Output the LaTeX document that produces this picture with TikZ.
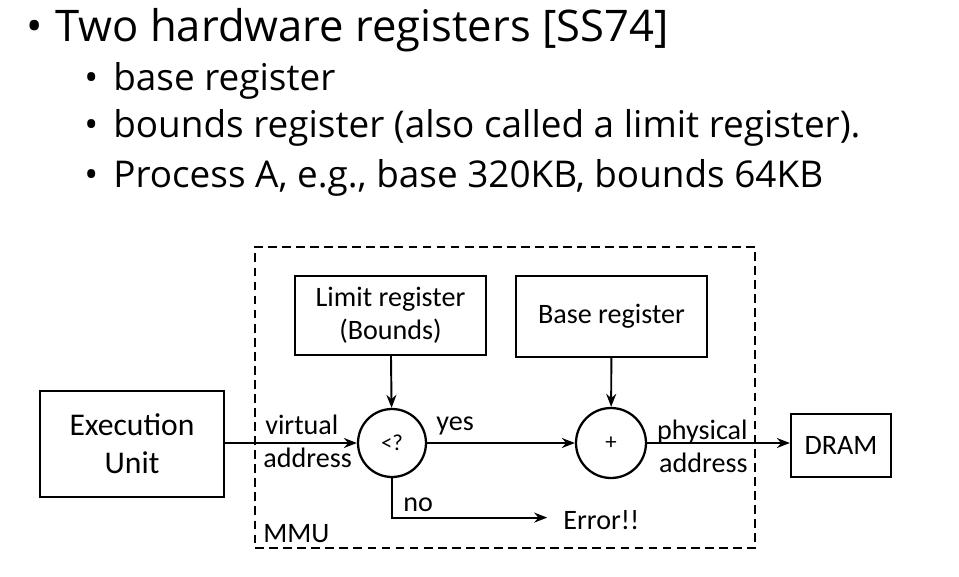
\documentclass[tikz,border=0pt]{standalone}
\usepackage{fontspec}
\setmainfont{Carlito}
\newfontfamily\slidefont{Open Sans}
\usetikzlibrary{arrows.meta}

\begin{document}
\begin{tikzpicture}[x=0.02cm,y=-0.02cm,
box/.style={
% The shape:
rectangle,
draw=black,
line width=1.3pt,
align=center,
font=\fontsize{16}{19}\selectfont
},
op/.style={
circle,
draw=black,
line width=1.3pt,
inner sep=0pt,
font=\fontsize{13}{15}\selectfont
},
lbl/.style={inner sep=0pt,font=\fontsize{16}{19}\selectfont},
bullet/.style={anchor=base west,inner sep=0pt,font=\slidefont\fontsize{21}{25}\selectfont},
flow/.style={-{Stealth[length=2.6mm,width=2mm]},line width=1.1pt}
]
\useasboundingbox (0,0) rectangle (959,577);
% Slide text:
\node (title) [bullet,font=\slidefont\fontsize{24.8}{29}\selectfont] at (26,42) {\makebox[0.58cm][l]{•}Two hardware registers [SS74]};
\node (basereg) [bullet] at (84,91) {\makebox[0.58cm][l]{•}base register};
\node (boundsreg) [bullet] at (84,138) {\makebox[0.58cm][l]{•}bounds register (also called a limit register).};
\node (procA) [bullet] at (84,188) {\makebox[0.58cm][l]{•}Process A, e.g., base 320KB, bounds 64KB};
% Diagram:
\node (mmu) [draw=black,dashed,dash pattern=on 5pt off 3pt,line width=1pt,minimum width=10cm,minimum height=6.02cm] at (505,397.5) {};
\node (exec) [box,minimum width=3.68cm,minimum height=2.12cm,font=\fontsize{18}{21.6}\selectfont] at (132,444) {Execution\\Unit};
\node (limit) [box,minimum width=3.82cm,minimum height=1.58cm] at (390.5,315.5) {Limit register\\(Bounds)};
\node (base) [box,minimum width=3.82cm,minimum height=1.62cm] at (611.5,316.5) {Base register};
\node (dram) [box,minimum width=2cm,minimum height=1.26cm] at (841,445.5) {DRAM};
\node (lt) [op,minimum size=1.36cm] at (392,443) {<?};
\node (plus) [op,minimum size=1.4cm] at (611,443) {+};
\node (error) [lbl,anchor=base west] at (563,529) {Error!!};
% Labels:
\node (virt) [lbl,anchor=base west] at (265,434) {virtual};
\node (vaddr) [lbl,anchor=base west] at (263,467) {address};
\node (yes) [lbl,anchor=base west] at (436,430) {yes};
\node (no) [lbl,anchor=base west] at (403,511) {no};
\node (phys) [lbl,anchor=base east] at (748,439) {physical};
\node (paddr) [lbl,anchor=base east] at (748,472) {address};
\node (mmulabel) [lbl,anchor=base west] at (263,542) {MMU};
% Connectors:
\draw[flow] (exec.east |- lt.west) -- (lt.west);
\draw[flow] (limit) -- (lt);
\draw[flow] (lt) -- (plus);
\draw[flow] (base) -- (plus);
\draw[flow] (plus.east) -- (plus.east -| dram.west);
\draw[flow] (lt.south) |- ([xshift=-9pt,yshift=0.4mm]error.west);
\end{tikzpicture}
\end{document}
